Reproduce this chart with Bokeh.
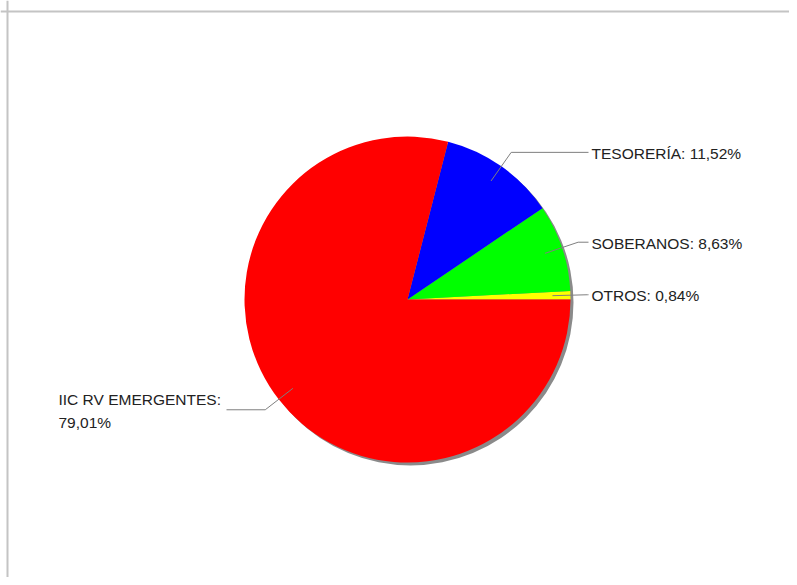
import math
from bokeh.plotting import figure
from bokeh.models import Range1d, Span, ColumnDataSource
from bokeh.core.properties import value
from bokeh.embed import file_html
from bokeh.resources import INLINE

# ---- data ----
categories = ["OTROS", "SOBERANOS", "TESORERÍA", "IIC RV EMERGENTES"]
percentages = [0.84, 8.63, 11.52, 79.01]
colors = ["#ffff00", "#00ff00", "#0000ff", "#ff0000"]

# ---- layout (screen pixels) ----
W, H = 789, 577
X0, Y0 = 0, 0
CX, CY = 407, 299
R = 163
FONT = "Liberation Sans"
FS = "15.5px"

p = figure(width=W, height=H, output_backend="svg", toolbar_location=None,
           x_range=Range1d(X0, X0 + W), y_range=Range1d(-(Y0 + H), -Y0),
           min_border=0)
p.axis.visible = False
p.grid.visible = False
p.outline_line_color = None
p.background_fill_color = "white"
p.border_fill_color = "white"

# frame lines (top and left)
p.add_layout(Span(location=-11, dimension="width", line_color="#c4c4c4", line_width=2))
p.add_layout(Span(location=7, dimension="height", line_color="#c4c4c4", line_width=2))

total = sum(percentages)
starts, ends = [], []
acc = 0.0
for v in percentages:
    starts.append(2 * math.pi * acc / total)
    acc += v
    ends.append(2 * math.pi * acc / total)

# shadow
p.wedge(x=CX + 3, y=-(CY + 3), radius=R, start_angle=0, end_angle=2 * math.pi,
        fill_color="#8a8a8a", line_color=None)

src = ColumnDataSource(dict(start=starts, end=ends, color=colors))
p.wedge(x=CX, y=-CY, radius=R, start_angle="start", end_angle="end",
        fill_color="color", line_color=None, source=src)

# labels with leader lines
for name, v, a0, a1 in zip(categories, percentages, starts, ends):
    mid = (a0 + a1) / 2
    c, s = math.cos(mid), math.sin(mid)
    x1, y1 = CX + 145 * c, CY - 145 * s
    x2, y2 = CX + 180 * c, CY - 180 * s
    pct = f"{v:.2f}".replace(".", ",") + "%"
    if c >= 0:
        x3 = 588
        p.line([x1, x2, x3], [-y1, -y2, -y2], line_color="#7f7f7f", line_width=1)
        p.text(x=[x3 + 3], y=[-y2 - 1], text=[f"{name}: {pct}"],
               text_font=value(FONT), text_font_size=FS, text_color="#222222",
               text_baseline="middle", text_align="left")
    else:
        x3 = 226
        p.line([x1, x2, x3], [-y1, -y2, -y2], line_color="#7f7f7f", line_width=1)
        p.text(x=[58], y=[-y2 - 1], text=[f"{name}:\n{pct}"],
               text_font=value(FONT), text_font_size=FS, text_color="#222222",
               text_baseline="middle", text_align="left", text_line_height=1.38)

open("out.html", "w").write(file_html(p, INLINE))
